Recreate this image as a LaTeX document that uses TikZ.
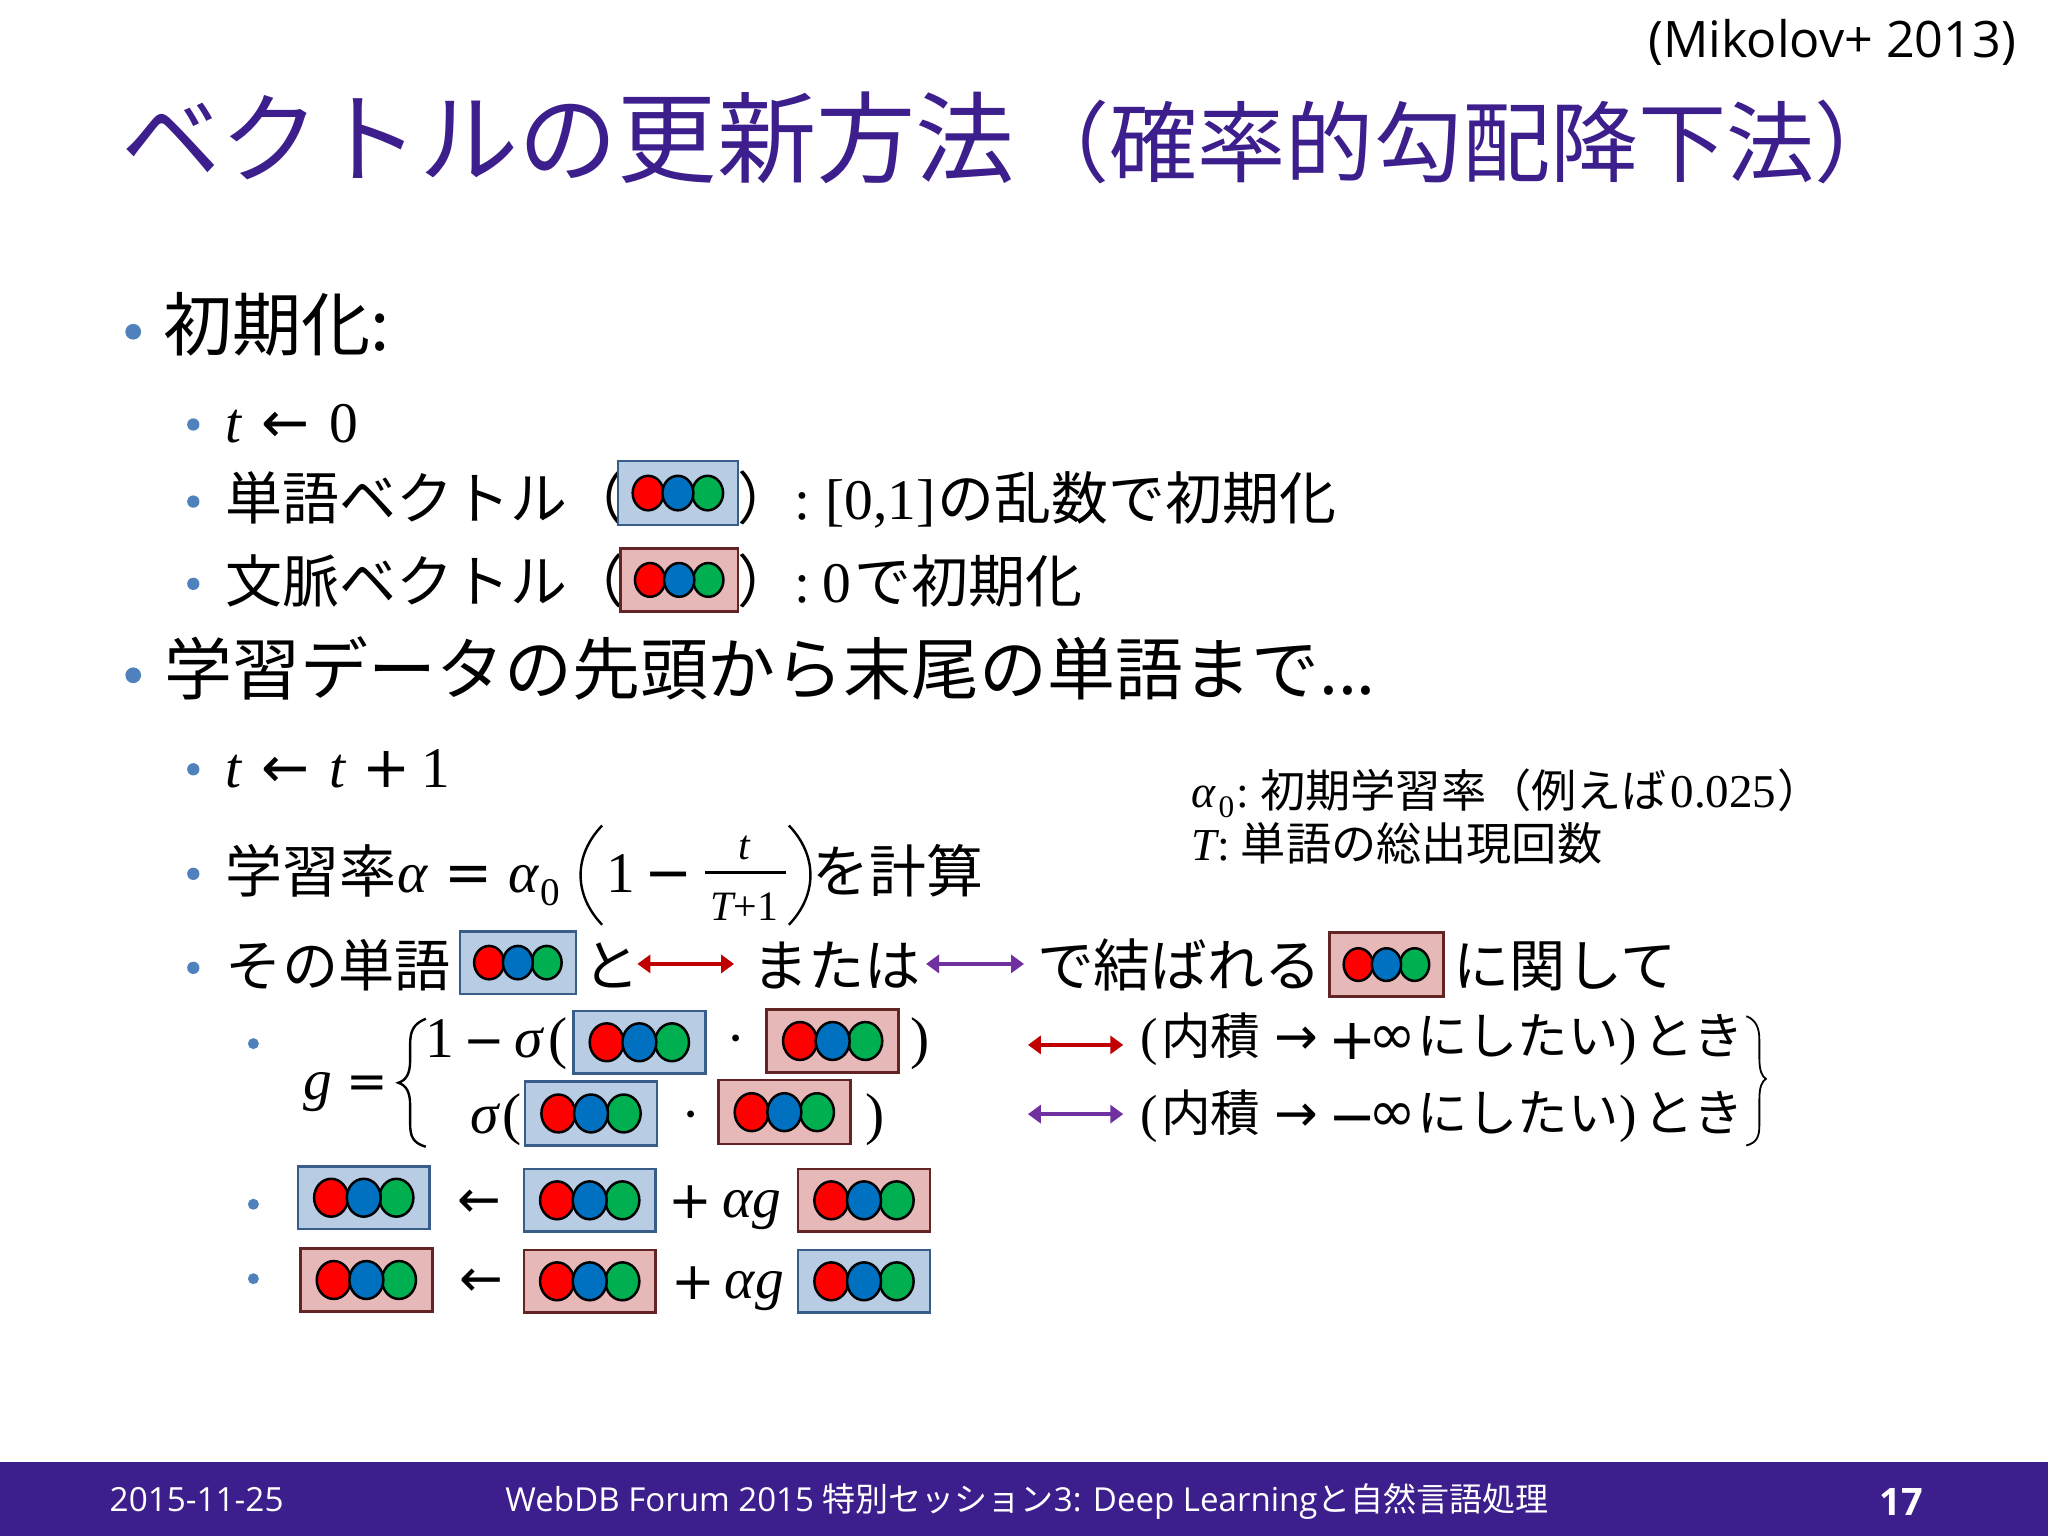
\documentclass[tikz,border=0pt]{standalone}
\usepackage{fontspec}
\usetikzlibrary{arrows.meta}
\setmainfont{Liberation Serif}
\newfontfamily\jpfam{Noto Sans CJK JP}
\newfontfamily\sansfam{Open Sans}
\newfontfamily\symfam{DejaVu Sans}
\newcommand\szpx[1]{\fontsize{\fpeval{#1*1.30612}pt}{\fpeval{#1*1.5}pt}\selectfont}
\newcommand\Jf[1]{\jpfam\szpx{#1}}
\newcommand\Sf[1]{\sansfam\szpx{#1}}
\newcommand\Rf[1]{\rmfamily\upshape\szpx{#1}}
\newcommand\If[1]{\rmfamily\itshape\szpx{#1}}
\newcommand\Yf[1]{\symfam\szpx{#1}}
\definecolor{slidepurple}{HTML}{3C1E8C}
\definecolor{bulletblue}{HTML}{4F81BD}
\definecolor{wordfill}{HTML}{B8CCE4}
\definecolor{wordline}{HTML}{385D8A}
\definecolor{ctxfill}{HTML}{E6B9B8}
\definecolor{ctxline}{HTML}{632523}
\definecolor{arrowred}{HTML}{C00000}
\definecolor{arrowpurple}{HTML}{7030A0}
\definecolor{dotblue}{HTML}{0070C0}
\definecolor{dotgreen}{HTML}{00B050}
\tikzset{
  txt/.style={anchor=base west,inner sep=0pt,outer sep=0pt,text=black},
  wordbox/.style={draw=wordline,fill=wordfill,line width=2.5pt},
  ctxbox/.style={draw=ctxline,fill=ctxfill,line width=2.5pt},
  dot/.style={draw=black,line width=2.5pt},
  bul/.style={fill=bulletblue,draw=none},
  dblarrow/.style={{Triangle[length=13pt,width=18pt]}-{Triangle[length=13pt,width=18pt]},line width=3.5pt},
  curve/.style={draw=black,line width=2.4pt}
}
% #1 x0, #2 y0, #3 x1, #4 y1, #5 style
\newcommand\vecbox[5]{%
  \draw[#5] (#1,#2) rectangle (#3,#4);
  \pgfmathsetmacro\vbs{(#3-#1)/101}
  \pgfmathsetmacro\vbx{(#1+#3)/2}
  \pgfmathsetmacro\vby{(#2+#4)/2}
  \pgfmathsetmacro\vbd{25*\vbs}
  \pgfmathsetmacro\vbrx{13*\vbs}
  \pgfmathsetmacro\vbry{14.5*\vbs}
  \draw[dot,fill=red] (\vbx-\vbd,\vby) ellipse [x radius=\vbrx,y radius=\vbry];
  \draw[dot,fill=dotgreen] (\vbx+\vbd,\vby) ellipse [x radius=\vbrx,y radius=\vbry];
  \draw[dot,fill=dotblue] (\vbx,\vby) ellipse [x radius=\vbrx,y radius=\vbry];
}
\begin{document}
\begin{tikzpicture}[x=1.30612pt,y=-1.30612pt]
\useasboundingbox (0,0) rectangle (1568,1176);
\fill[white] (0,0) rectangle (1568,1176);
% footer
\fill[slidepurple] (0,1119) rectangle (1568,1176);
\node[txt,text=white,font=\Sf{25.5}] (fdate) at (84,1157) {2015-11-25};
\node[txt,text=white,font=\Sf{25.3}] (ftitle) at (387,1157) {WebDB Forum 2015 {\jpfam 特別セッション}3: Deep Learning{\jpfam と自然言語処理}};
\node[txt,text=white,font=\Sf{29}\bfseries] (fpage) at (1439,1160) {17};
% header
\node[txt,font=\Sf{38.5}] (cite) at (1262,44) {(Mikolov+ 2013)};
\node[txt,text=slidepurple,font=\Jf{76}] (title1) at (93,134) {ベクトルの更新方法};
\node[txt,text=slidepurple,font=\Jf{67.5}] (title2) at (782,134) {（確率的勾配降下法）};
% bullets
\foreach \bx/\by/\br in {102/254/6,148/325/4.7,148/384/4.7,148/447/4.7,102/517/6,148/589/4.7,148/669/4.7,148/741/4.7,194/799/4.2,194/922/4.2,194/979/4.2}
  \fill[bul] (\bx,\by) circle [radius=\br];
% init
\node[txt,font=\Jf{53}] (init) at (125,268) {初期化:};
\node[txt,font=\If{44}] (t0a) at (173,339) {t};
\node[txt,font=\Yf{44}] (t0b) at (200,339) {←};
\node[txt,font=\Rf{44}] (t0c) at (252,339) {0};
\node[txt,font=\Jf{43.6}] (wv) at (173,398) {単語ベクトル（};
\node[txt,font=\Jf{43.6}] (wv2) at (565,398) {）};
\node[txt,font=\Rf{44}] (wv3) at (608,398) {:};
\node[txt,font=\Rf{44}] (wv3b) at (632,398) {[0,1]};
\node[txt,font=\Jf{43.6}] (wv4) at (718,398) {の乱数で初期化};
\node[txt,font=\Jf{43.6}] (cv) at (173,461) {文脈ベクトル（};
\node[txt,font=\Jf{43.6}] (cv2) at (565,461) {）};
\node[txt,font=\Rf{44}] (cv3) at (608,461) {:};
\node[txt,font=\Rf{44}] (cv3b) at (630,461) {0};
\node[txt,font=\Jf{43.6}] (cv4) at (654,461) {で初期化};
\vecbox{473}{353}{565}{402}{wordbox}
\vecbox{475}{420}{565}{468}{ctxbox}
% training
\node[txt,font=\Jf{52}] (train) at (126,532) {学習データの先頭から末尾の単語まで...};
\node[txt,font=\If{44}] (t1a) at (173,603) {t};
\node[txt,font=\Yf{44}] (t1b) at (200,603) {←};
\node[txt,font=\If{44}] (t1c) at (252,603) {t};
\node[txt,font=\Yf{44}] (t1d) at (277.5,603) {+};
\node[txt,font=\Rf{44}] (t1e) at (323,603) {1};
% learning rate
\node[txt,font=\Jf{43.6}] (lr1) at (173,683) {学習率};
\node[txt,font=\If{44}] (lr2) at (304,683) {α};
\node[txt,font=\Yf{44}] (lr3) at (340.5,683) {=};
\node[txt,font=\If{44}] (lr4) at (389,683) {α};
\node[txt,font=\Rf{30}] (lr5) at (414,693) {0};
\node[txt,font=\Rf{44}] (lr6) at (464,683) {1};
\node[txt,font=\Yf{44}] (lr7) at (493.5,683) {−};
\node[anchor=base,inner sep=0pt,font=\If{32}] (lr8) at (570,658) {t};
\node[anchor=base,inner sep=0pt,font=\Rf{32}] (lr9) at (570,705) {{\itshape T}+1};
\draw[line width=3pt] (540,668) -- (602,668);
\draw[curve] (461,632) .. controls (439,655) and (439,685) .. (461,708);
\draw[curve] (604,632) .. controls (626,655) and (626,685) .. (604,708);
\node[txt,font=\Jf{43.6}] (lr10) at (622,683) {を計算};
% that word
\node[txt,font=\Jf{43}] (sw1) at (173,755) {その単語};
\vecbox{352}{713}{441}{761}{wordbox}
\node[txt,font=\Jf{43}] (sw2) at (447,755) {と};
\coordinate (rs) at (488,738); \coordinate (re) at (562,738);
\draw[dblarrow,arrowred] (rs) -- (re);
\node[txt,font=\Jf{43}] (sw3) at (576,755) {または};
\coordinate (ps) at (709,738); \coordinate (pe) at (784,738);
\draw[dblarrow,arrowpurple] (ps) -- (pe);
\node[txt,font=\Jf{43.5}] (sw4) at (794,755) {で結ばれる};
\vecbox{1018}{714}{1105}{763}{ctxbox}
\node[txt,font=\Jf{43}] (sw5) at (1113,755) {に関して};
% g
\node[txt,font=\If{44}] (g1) at (232,842) {g};
\node[txt,font=\Yf{38}] (g2) at (265,841) {=};
\draw[curve] (326,780) .. controls (316,784) and (314,790) .. (314,800) -- (314,812) .. controls (314,822) and (311,827) .. (305,829) .. controls (311,831) and (314,836) .. (314,846) -- (314,860) .. controls (314,870) and (316,875) .. (326,878);
\node[txt,font=\Rf{44}] (g3) at (326,810) {1};
\node[txt,font=\Yf{38}] (g4) at (354.5,810) {−};
\node[txt,font=\If{44}] (g5) at (394,810) {σ};
\node[txt,font=\Rf{44}] (g6) at (420,810) {(};
\vecbox{439}{774}{540}{822}{wordbox}
\node[txt,font=\Rf{44}] (g7) at (556,810) {·};
\vecbox{587}{773}{688}{821}{ctxbox}
\node[txt,font=\Rf{44}] (g8) at (697,810) {)};
\node[txt,font=\If{44}] (g9) at (360,868) {σ};
\node[txt,font=\Rf{44}] (g10) at (385,868) {(};
\vecbox{402}{828}{503}{877}{wordbox}
\node[txt,font=\Rf{44}] (g11) at (522,868) {·};
\vecbox{550}{827}{651}{876}{ctxbox}
\node[txt,font=\Rf{44}] (g12) at (663,868) {)};
% right side of g
\coordinate (rs2) at (787,800); \coordinate (re2) at (860,800);
\draw[dblarrow,arrowred] (rs2) -- (re2);
\coordinate (ps2) at (787,853); \coordinate (pe2) at (860,853);
\draw[dblarrow,arrowpurple] (ps2) -- (pe2);
\node[txt,font=\Rf{40}] (c1) at (873,807) {(};
\node[txt,font=\Jf{38}] (c2) at (889,807) {内積};
\node[txt,font=\Yf{40}] (c3) at (976,807) {→};
\node[txt,font=\Yf{44}] (c4) at (1017.5,811) {+};
\node[txt,font=\Yf{44}] (c5) at (1048,807) {∞};
\node[txt,font=\Jf{38.5}] (c6) at (1085,807) {にしたい};
\node[txt,font=\Rf{40}] (c7) at (1240,807) {)};
\node[txt,font=\Jf{38.5}] (c8) at (1258,807) {とき};
\node[txt,font=\Rf{40}] (d1) at (873,866) {(};
\node[txt,font=\Jf{38}] (d2) at (889,866) {内積};
\node[txt,font=\Yf{40}] (d3) at (976,866) {→};
\node[txt,font=\Yf{44}] (d4) at (1017.5,870) {−};
\node[txt,font=\Yf{44}] (d5) at (1048,866) {∞};
\node[txt,font=\Jf{38.5}] (d6) at (1085,866) {にしたい};
\node[txt,font=\Rf{40}] (d7) at (1240,866) {)};
\node[txt,font=\Jf{38.5}] (d8) at (1258,866) {とき};
\draw[curve,line width=1.8pt] (1337,778) .. controls (1345,781) and (1347,788) .. (1347,796) -- (1347,810) .. controls (1347,820) and (1349,824) .. (1352,826) .. controls (1349,828) and (1347,832) .. (1347,842) -- (1347,862) .. controls (1347,870) and (1345,875) .. (1337,877);
% updates
\vecbox{228}{893}{329}{941}{wordbox}
\node[txt,font=\Yf{40}] (u1) at (350,932) {←};
\vecbox{401}{895}{502}{943}{wordbox}
\node[txt,font=\Yf{40}] (u2) at (512,933) {+};
\node[txt,font=\If{44}] (u3) at (553,932) {αg};
\vecbox{611}{895}{712}{943}{ctxbox}
\vecbox{230}{956}{331}{1004}{ctxbox}
\node[txt,font=\Yf{40}] (v1) at (352,993) {←};
\vecbox{401}{957}{502}{1005}{ctxbox}
\node[txt,font=\Yf{40}] (v2) at (514,995) {+};
\node[txt,font=\If{44}] (v3) at (555,994) {αg};
\vecbox{611}{957}{712}{1005}{wordbox}
% annotation
\node[txt,font=\If{35}] (a1) at (912,618) {α};
\node[txt,font=\Rf{24}] (a2) at (933,626) {0};
\node[txt,font=\Rf{35}] (a3) at (947,618) {:};
\node[txt,font=\Jf{34.6}] (a4) at (965,618) {初期学習率（例えば};
\node[txt,font=\Rf{36}] (a5) at (1279,618) {0.025};
\node[txt,font=\Jf{34.6}] (a6) at (1361,618) {）};
\node[txt,font=\If{35}] (b1) at (912,659) {T};
\node[txt,font=\Rf{35}] (b2) at (932,659) {:};
\node[txt,font=\Jf{34.6}] (b3) at (950,659) {単語の総出現回数};
\end{tikzpicture}
\end{document}
